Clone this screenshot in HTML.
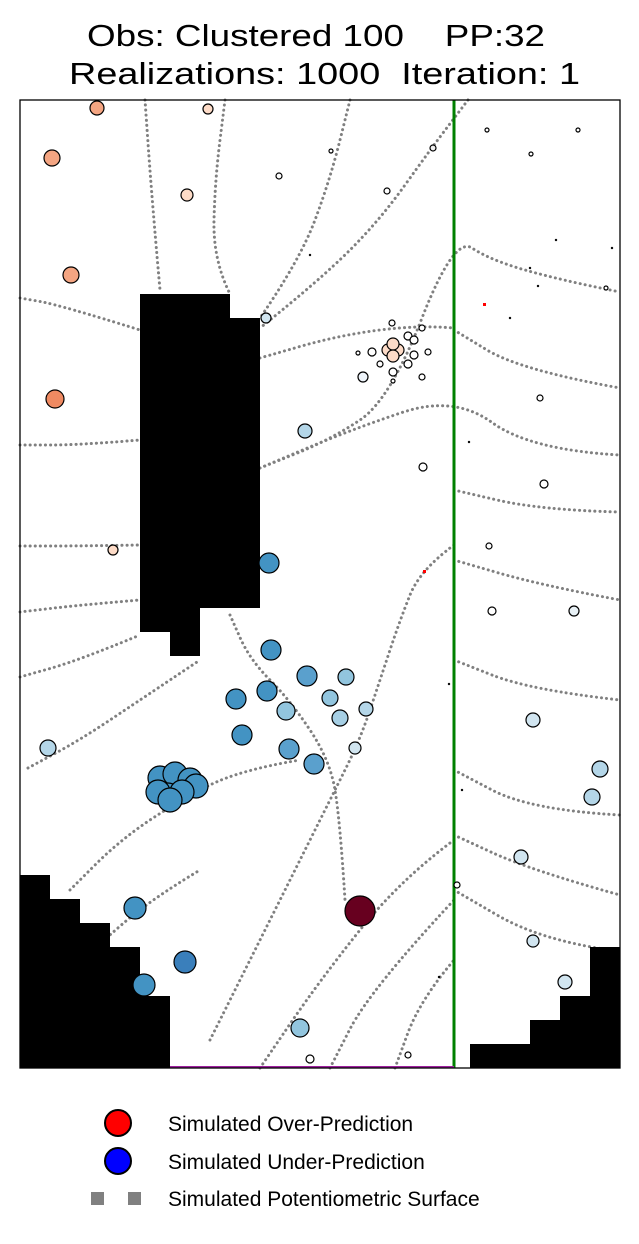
<!DOCTYPE html>
<html><head><meta charset="utf-8"><style>
body{margin:0;background:#fff;}
svg{display:block;font-family:"Liberation Sans",sans-serif;}
.pre{white-space:pre;}
</style></head><body>
<svg id="chart" width="639" height="1244" viewBox="0 0 639 1244" xmlns="http://www.w3.org/2000/svg">
<text class="pre" x="87" y="46" font-size="31" textLength="458" lengthAdjust="spacingAndGlyphs">Obs: Clustered 100    PP:32</text>
<text class="pre" x="69" y="84" font-size="31" textLength="511" lengthAdjust="spacingAndGlyphs">Realizations: 1000  Iteration: 1</text>
<g id="plot"></g>
<rect x="20" y="100" width="600" height="968" fill="none" stroke="#000" stroke-width="1.3"/>
<g>
<g><circle cx="118" cy="1123" r="13" fill="#ff0000" stroke="#000" stroke-width="2"/><text x="168" y="1131" font-size="21">Simulated Over-Prediction</text></g>
<g><circle cx="118" cy="1161" r="13" fill="#0000ff" stroke="#000" stroke-width="2"/><text x="168" y="1169" font-size="21">Simulated Under-Prediction</text></g>
<g><rect x="91" y="1192" width="13" height="13" fill="#808080"/><rect x="128" y="1192" width="13" height="13" fill="#808080"/><text x="168" y="1206" font-size="21">Simulated Potentiometric Surface</text></g>
</g>
</svg>
<script>
// data coordinates: x 0..600, y 0..968 (top-down)
const obsX=[77,188,32,167,51,35,93,28,246,285,249,251,216,247,287,326,310,266,320,346,222,269,294,335,140,155,170,176,148,162,138,150,115,165,124,340,280,290,388,437,513,545,501,572,580,513,554,472,469,524,403,520,467,558,511,413,367,311,259,290,536,592,510,518,586,490,449,429,442,419,372,402,388,394,408,338,352,394,360,388,373,402,343,373,368,378,373,373];
const obsY=[8,9,58,95,175,299,450,648,218,331,463,550,599,591,576,577,598,611,618,609,635,649,664,648,678,674,680,686,695,692,692,700,808,862,885,811,928,959,955,785,841,882,757,697,669,620,511,511,446,384,367,298,30,30,54,48,91,51,76,155,140,148,168,186,188,218,342,584,690,877,223,228,236,240,252,253,252,255,264,264,272,277,277,281,250,250,244,256];
const obsR=[7,5,8,6,8,9,5,8,5,7,10,10,10,10,10,8,8,9,8,7,10,10,10,6,12,12,12,12,12,12,12,12,11,11,11,15,9,4,3,3,6,7,7,8,8,7,5,4,3,4,4,3,2,2,2,3,3,2,3,1,1,1,1,1,2,1,1,1,1,1,3,3,4,4,3,2,4,4,3,4,4,3,5,2,6,6,6,6];
const obsC=["#f4a582","#fddbc7","#f4a582","#fddbc7","#f4a582","#ef8a62","#fddbc7","#b4d6e8","#d1e5f0","#b4d6e8","#4393c3","#4393c3","#4393c3","#4393c3","#5aa0cd","#92c5de","#92c5de","#92c5de","#a6cfe4","#b4d6e8","#4393c3","#5aa0cd","#5aa0cd","#d1e5f0","#4393c3","#4393c3","#4393c3","#4393c3","#4393c3","#4393c3","#4393c3","#4393c3","#4393c3","#3a7fbb","#4393c3","#67001f","#92c5de","#fff","#fff","#fff","#d1e5f0","#d1e5f0","#d1e5f0","#b4d6e8","#b4d6e8","#d1e5f0","#e8f1f6","#fff","#fff","#fff","#fff","#fff","#fff","#fff","#fff","#f0f0f0","#fff","#fff","#fff","#000","#000","#000","#000","#000","#fff","#000","#000","#000","#000","#000","#fff","#fff","#fff","#fff","#fff","#fff","#fff","#fff","#fff","#fff","#fff","#fff","#eef4fa","#fff","#fddbc7","#fddbc7","#fddbc7","#fddbc7"];
const barrierLeft=[[120,194],[210,194],[210,218],[240,218],[240,508],[180,508],[180,556],[150,556],[150,532],[120,532]];
const barrierBL=[[0,775],[30,775],[30,799],[60,799],[60,823],[90,823],[90,847],[120,847],[120,896],[150,896],[150,968],[0,968]];
const barrierBR=[[450,968],[450,944],[510,944],[510,920],[540,920],[540,896],[570,896],[570,847],[600,847],[600,968]];
const contours=[
[[125,0],[132,100],[140,190]],
[[0,198],[40,205],[120,230]],
[[205,0],[195,80],[193,160],[210,194]],
[[330,0],[310,80],[280,160],[240,218]],
[[448,0],[410,50],[360,120],[300,180],[240,228]],
[[0,345],[60,345],[120,340]],
[[0,446],[60,446],[120,445]],
[[0,512],[60,505],[120,500]],
[[0,577],[60,560],[120,535]],
[[240,368],[310,340],[370,300],[434,136],[470,160],[540,180],[600,192]],
[[434,230],[500,270],[600,288]],
[[240,368],[330,330],[434,295],[510,350],[600,355]],
[[434,390],[520,410],[600,412]],
[[434,460],[520,485],[600,500]],
[[434,560],[510,590],[600,600]],
[[434,670],[510,710],[600,715]],
[[434,735],[510,770],[600,795]],
[[434,790],[520,840],[590,850]],
[[375,968],[400,900],[434,860]],
[[310,968],[350,890],[434,800]],
[[240,968],[300,880],[380,780],[434,740]],
[[190,940],[230,860],[270,780],[310,700],[340,640],[360,580],[380,520],[400,470],[434,445]],
[[8,668],[60,640],[120,600],[180,560]],
[[50,790],[100,740],[160,700],[220,670],[280,660]],
[[75,848],[130,800],[180,770]],
[[210,515],[230,560],[270,600],[310,660],[320,720],[325,800]],
[[240,258],[320,235],[400,225],[434,228]]
];
const NS="http://www.w3.org/2000/svg";
const X0=20,Y0=100;
const sx=v=>X0+v, sy=v=>Y0+v;
const plot=document.getElementById('plot');
function mk(t,a){const e=document.createElementNS(NS,t);for(const k in a)e.setAttribute(k,a[k]);plot.appendChild(e);return e;}
function smooth(pts){let d=`M${sx(pts[0][0])},${sy(pts[0][1])}`;for(let i=1;i<pts.length;i++){const p0=pts[i-1],p1=pts[i];const mx=(p0[0]+p1[0])/2,my=(p0[1]+p1[1])/2;if(i<pts.length-1)d+=` Q${sx(p0[0])},${sy(p0[1])} ${sx(mx)},${sy(my)}`;else d+=` Q${sx(p0[0])},${sy(p0[1])} ${sx(p1[0])},${sy(p1[1])}`;}
if(pts.length==2)d=`M${sx(pts[0][0])},${sy(pts[0][1])} L${sx(pts[1][0])},${sy(pts[1][1])}`;return d;}
contours.forEach((c,i)=>{
const e=mk('path',{d:smooth(c),fill:'none',stroke:'#808080','stroke-width':3,'stroke-dasharray':'0.1 5','stroke-linecap':'round'});


});
[[barrierLeft,'barrier-left'],[barrierBL,'barrier-bottom-left'],[barrierBR,'barrier-bottom-right']].forEach(([p,n])=>{
const e=mk('polygon',{points:p.map(q=>sx(q[0])+','+sy(q[1])).join(' '),fill:'#000'});


});
const g=mk('line',{x1:sx(434),y1:sy(0),x2:sx(434),y2:sy(968),stroke:'#008000','stroke-width':3});


const pl=mk('line',{x1:sx(150),y1:sy(967),x2:sx(434),y2:sy(967),stroke:'#a020a0','stroke-width':2});


[[463,203],[403,470]].forEach((p,i)=>{const r=mk('rect',{x:sx(p[0]),y:sy(p[1]),width:3,height:3,fill:'#f00'});

});
obsX.forEach((x,i)=>{
const e=mk('circle',{cx:sx(x),cy:sy(obsY[i]),r:obsR[i],fill:obsC[i],stroke:'#000','stroke-width':obsR[i]<2?0.5:1.2});


});
</script>
</body></html>
